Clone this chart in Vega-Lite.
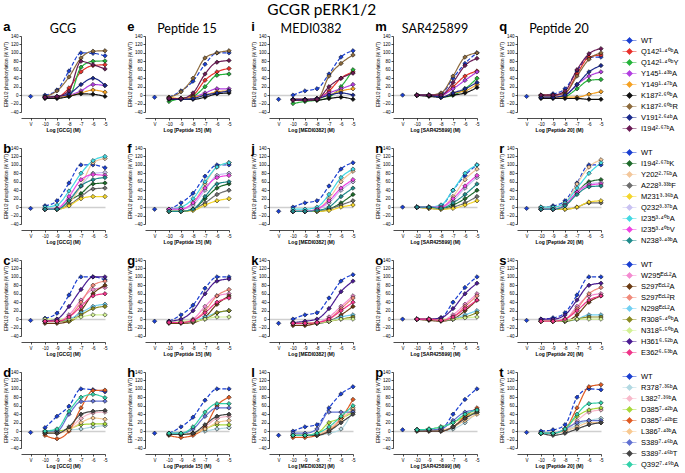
{
"$schema":"https://vega.github.io/schema/vega-lite/v6.json",
"padding":{"left":3,"top":3,"right":0,"bottom":0},
"title":{"text":"GCGR pERK1/2","fontSize":15.5,"font":"Lato","fontWeight":"normal","anchor":"start","frame":"bounds","dx":264,"offset":2},
"datasets":{
"conc":[{"k":"v","x":-11.2},{"k":"n10","x":-10},{"k":"n9","x":-9},{"k":"n8","x":-8},{"k":"n7","x":-7},{"k":"n6","x":-6},{"k":"n5","x":-5}],
"d":[
{"p":"a","s":"WT","v":-3,"n10":0,"n9":12,"n8":57,"n7":100,"n6":99,"n5":93},
{"p":"a","s":"Q142¹·⁴⁰ᵇA","n10":-5,"n9":-5,"n8":17,"n7":55,"n6":70,"n5":72},
{"p":"a","s":"Q142¹·⁴⁰ᵇY","n10":-5,"n9":-5,"n8":-3,"n7":66,"n6":80,"n5":81},
{"p":"a","s":"Y145¹·⁴³ᵇA","n10":-5,"n9":-5,"n8":0,"n7":10,"n6":25,"n5":23},
{"p":"a","s":"Y149¹·⁴⁷ᵇA","n10":-5,"n9":-5,"n8":-2,"n7":5,"n6":12,"n5":7},
{"p":"a","s":"K187²·⁶⁰ᵇA","n10":-8,"n9":-8,"n8":-3,"n7":3,"n6":2,"n5":-3},
{"p":"a","s":"K187²·⁶⁰ᵇR","n10":-3,"n9":10,"n8":43,"n7":88,"n6":104,"n5":105},
{"p":"a","s":"V191²·⁶⁴ᵇA","n10":-5,"n9":-3,"n8":3,"n7":25,"n6":40,"n5":23},
{"p":"a","s":"I194²·⁶⁷ᵇA","n10":-5,"n9":-3,"n8":10,"n7":80,"n6":72,"n5":62},
{"p":"e","s":"WT","v":-5,"n10":-5,"n9":10,"n8":33,"n7":73,"n6":100,"n5":100},
{"p":"e","s":"Q142¹·⁴⁰ᵇA","n10":-8,"n9":-8,"n8":0,"n7":35,"n6":55,"n5":63},
{"p":"e","s":"Q142¹·⁴⁰ᵇY","n10":-15,"n9":-8,"n8":-3,"n7":20,"n6":47,"n5":50},
{"p":"e","s":"Y145¹·⁴³ᵇA","n10":-8,"n9":-8,"n8":-5,"n7":5,"n6":15,"n5":15},
{"p":"e","s":"Y149¹·⁴⁷ᵇA","n10":-5,"n9":-8,"n8":-5,"n7":0,"n6":8,"n5":10},
{"p":"e","s":"K187²·⁶⁰ᵇA","n10":-10,"n9":-10,"n8":-10,"n7":-5,"n6":3,"n5":5},
{"p":"e","s":"K187²·⁶⁰ᵇR","n10":-5,"n9":8,"n8":40,"n7":88,"n6":100,"n5":105},
{"p":"e","s":"V191²·⁶⁴ᵇA","n10":-8,"n9":-10,"n8":-8,"n7":0,"n6":5,"n5":10},
{"p":"e","s":"I194²·⁶⁷ᵇA","n10":-8,"n9":-8,"n8":5,"n7":50,"n6":78,"n5":82},
{"p":"i","s":"WT","v":-10,"n10":0,"n9":10,"n8":15,"n7":50,"n6":90,"n5":105},
{"p":"i","s":"Q142¹·⁴⁰ᵇA","n10":-10,"n9":-10,"n8":-8,"n7":10,"n6":40,"n5":55},
{"p":"i","s":"Q142¹·⁴⁰ᵇY","n10":-20,"n9":-15,"n8":-12,"n7":-5,"n6":20,"n5":60},
{"p":"i","s":"Y145¹·⁴³ᵇA","n10":-10,"n9":-10,"n8":-8,"n7":5,"n6":15,"n5":25},
{"p":"i","s":"Y149¹·⁴⁷ᵇA","n10":-10,"n9":-10,"n8":-8,"n7":0,"n6":10,"n5":15},
{"p":"i","s":"K187²·⁶⁰ᵇA","n10":-12,"n9":-12,"n8":-12,"n7":-8,"n6":-5,"n5":-10},
{"p":"i","s":"K187²·⁶⁰ᵇR","n10":-10,"n9":-10,"n8":-10,"n7":45,"n6":75,"n5":95},
{"p":"i","s":"V191²·⁶⁴ᵇA","n10":-10,"n9":-10,"n8":-8,"n7":0,"n6":5,"n5":0},
{"p":"i","s":"I194²·⁶⁷ᵇA","n10":-12,"n9":-12,"n8":-10,"n7":20,"n6":40,"n5":52},
{"p":"m","s":"WT","v":0,"n10":0,"n9":0,"n8":3,"n7":40,"n6":75,"n5":100},
{"p":"m","s":"Q142¹·⁴⁰ᵇA","n10":0,"n9":0,"n8":0,"n7":20,"n6":45,"n5":57},
{"p":"m","s":"Q142¹·⁴⁰ᵇY","n10":0,"n9":0,"n8":-5,"n7":0,"n6":15,"n5":40},
{"p":"m","s":"Y145¹·⁴³ᵇA","n10":0,"n9":0,"n8":0,"n7":15,"n6":35,"n5":55},
{"p":"m","s":"Y149¹·⁴⁷ᵇA","n10":0,"n9":0,"n8":-5,"n7":5,"n6":10,"n5":25},
{"p":"m","s":"K187²·⁶⁰ᵇA","n10":0,"n9":-3,"n8":-5,"n7":0,"n6":5,"n5":18},
{"p":"m","s":"K187²·⁶⁰ᵇR","n10":0,"n9":0,"n8":5,"n7":45,"n6":90,"n5":100},
{"p":"m","s":"V191²·⁶⁴ᵇA","n10":0,"n9":0,"n8":-5,"n7":5,"n6":15,"n5":30},
{"p":"m","s":"I194²·⁶⁷ᵇA","n10":0,"n9":0,"n8":0,"n7":30,"n6":70,"n5":87},
{"p":"q","s":"WT","v":-3,"n10":0,"n9":3,"n8":15,"n7":57,"n6":90,"n5":90},
{"p":"q","s":"Q142¹·⁴⁰ᵇA","n10":0,"n9":0,"n8":5,"n7":50,"n6":90,"n5":95},
{"p":"q","s":"Q142¹·⁴⁰ᵇY","n10":-5,"n9":-5,"n8":-3,"n7":15,"n6":35,"n5":37},
{"p":"q","s":"Y145¹·⁴³ᵇA","n10":-5,"n9":-5,"n8":0,"n7":25,"n6":45,"n5":55},
{"p":"q","s":"Y149¹·⁴⁷ᵇA","n10":-5,"n9":-5,"n8":-5,"n7":-5,"n6":2,"n5":8},
{"p":"q","s":"K187²·⁶⁰ᵇA","n10":-8,"n9":-8,"n8":-8,"n7":-8,"n6":-10,"n5":-10},
{"p":"q","s":"K187²·⁶⁰ᵇR","n10":0,"n9":0,"n8":5,"n7":45,"n6":85,"n5":100},
{"p":"q","s":"V191²·⁶⁴ᵇA","n10":-5,"n9":-5,"n8":0,"n7":25,"n6":55,"n5":70},
{"p":"q","s":"I194²·⁶⁷ᵇA","n10":0,"n9":0,"n8":10,"n7":60,"n6":98,"n5":110},

{"p":"b","s":"WT","v":-3,"n10":3,"n9":15,"n8":57,"n7":100,"n6":100,"n5":93},
{"p":"b","s":"I194²·⁶⁷ᵇK","n10":-5,"n9":-5,"n8":15,"n7":32,"n6":55,"n5":57},
{"p":"b","s":"Y202²·⁷⁵ᵇA","n10":-5,"n9":-5,"n8":10,"n7":50,"n6":105,"n5":115},
{"p":"b","s":"A228³·³³ᵇF","n10":-5,"n9":-5,"n8":5,"n7":25,"n6":43,"n5":45},
{"p":"b","s":"M231³·³⁶ᵇA","n10":-5,"n9":-5,"n8":3,"n7":20,"n6":25,"n5":25},
{"p":"b","s":"Q232³·³⁷ᵇA","n10":-5,"n9":-5,"n8":20,"n7":50,"n6":80,"n5":82},
{"p":"b","s":"I235³·⁴⁰ᵇA","n10":0,"n9":5,"n8":38,"n7":80,"n6":110,"n5":120},
{"p":"b","s":"I235³·⁴⁰ᵇV","n10":-5,"n9":-3,"n8":25,"n7":65,"n6":77,"n5":75},
{"p":"b","s":"N238³·⁴³ᵇA","n10":-5,"n9":-5,"n8":15,"n7":50,"n6":65,"n5":70},
{"p":"f","s":"WT","v":-5,"n10":-5,"n9":10,"n8":33,"n7":73,"n6":100,"n5":100},
{"p":"f","s":"I194²·⁶⁷ᵇK","n10":-10,"n9":-10,"n8":-5,"n7":20,"n6":45,"n5":55},
{"p":"f","s":"Y202²·⁷⁵ᵇA","n10":-5,"n9":-5,"n8":10,"n7":55,"n6":95,"n5":105},
{"p":"f","s":"A228³·³³ᵇF","n10":-10,"n9":-10,"n8":-5,"n7":10,"n6":30,"n5":40},
{"p":"f","s":"M231³·³⁶ᵇA","n10":-10,"n9":-10,"n8":-8,"n7":5,"n6":15,"n5":20},
{"p":"f","s":"Q232³·³⁷ᵇA","n10":-5,"n9":-5,"n8":5,"n7":40,"n6":75,"n5":80},
{"p":"f","s":"I235³·⁴⁰ᵇA","n10":-5,"n9":0,"n8":20,"n7":60,"n6":95,"n5":105},
{"p":"f","s":"I235³·⁴⁰ᵇV","n10":-5,"n9":-5,"n8":10,"n7":45,"n6":70,"n5":75},
{"p":"f","s":"N238³·⁴³ᵇA","n10":-10,"n9":-10,"n8":-5,"n7":25,"n6":55,"n5":60},
{"p":"j","s":"WT","v":-10,"n10":0,"n9":10,"n8":15,"n7":50,"n6":90,"n5":105},
{"p":"j","s":"I194²·⁶⁷ᵇK","n10":-10,"n9":-10,"n8":-10,"n7":-5,"n6":10,"n5":30},
{"p":"j","s":"Y202²·⁷⁵ᵇA","n10":-10,"n9":-10,"n8":-5,"n7":20,"n6":60,"n5":85},
{"p":"j","s":"A228³·³³ᵇF","n10":-10,"n9":-10,"n8":-10,"n7":-5,"n6":5,"n5":15},
{"p":"j","s":"M231³·³⁶ᵇA","n10":-10,"n9":-10,"n8":-10,"n7":-8,"n6":0,"n5":5},
{"p":"j","s":"Q232³·³⁷ᵇA","n10":-10,"n9":-10,"n8":-5,"n7":10,"n6":40,"n5":60},
{"p":"j","s":"I235³·⁴⁰ᵇA","n10":-5,"n9":-5,"n8":0,"n7":30,"n6":70,"n5":90},
{"p":"j","s":"I235³·⁴⁰ᵇV","n10":-10,"n9":-10,"n8":-5,"n7":15,"n6":45,"n5":65},
{"p":"j","s":"N238³·⁴³ᵇA","n10":-10,"n9":-10,"n8":-8,"n7":0,"n6":25,"n5":45},
{"p":"n","s":"WT","v":0,"n10":0,"n9":0,"n8":3,"n7":40,"n6":75,"n5":100},
{"p":"n","s":"I194²·⁶⁷ᵇK","n10":0,"n9":0,"n8":-3,"n7":5,"n6":20,"n5":40},
{"p":"n","s":"Y202²·⁷⁵ᵇA","n10":0,"n9":0,"n8":0,"n7":25,"n6":65,"n5":90},
{"p":"n","s":"A228³·³³ᵇF","n10":0,"n9":-3,"n8":-5,"n7":0,"n6":10,"n5":25},
{"p":"n","s":"M231³·³⁶ᵇA","n10":0,"n9":-3,"n8":-5,"n7":-3,"n6":5,"n5":15},
{"p":"n","s":"Q232³·³⁷ᵇA","n10":0,"n9":0,"n8":0,"n7":15,"n6":45,"n5":70},
{"p":"n","s":"I235³·⁴⁰ᵇA","n10":0,"n9":0,"n8":5,"n7":40,"n6":80,"n5":100},
{"p":"n","s":"I235³·⁴⁰ᵇV","n10":0,"n9":0,"n8":0,"n7":20,"n6":50,"n5":75},
{"p":"n","s":"N238³·⁴³ᵇA","n10":0,"n9":0,"n8":-3,"n7":10,"n6":30,"n5":55},
{"p":"r","s":"WT","v":-3,"n10":0,"n9":3,"n8":15,"n7":57,"n6":100,"n5":100},
{"p":"r","s":"I194²·⁶⁷ᵇK","n10":-5,"n9":-5,"n8":5,"n7":35,"n6":60,"n5":65},
{"p":"r","s":"Y202²·⁷⁵ᵇA","n10":0,"n9":0,"n8":10,"n7":55,"n6":95,"n5":112},
{"p":"r","s":"A228³·³³ᵇF","n10":-5,"n9":-5,"n8":-5,"n7":0,"n6":10,"n5":10},
{"p":"r","s":"M231³·³⁶ᵇA","n10":-5,"n9":-5,"n8":-5,"n7":0,"n6":12,"n5":15},
{"p":"r","s":"Q232³·³⁷ᵇA","n10":-5,"n9":-5,"n8":5,"n7":35,"n6":55,"n5":58},
{"p":"r","s":"I235³·⁴⁰ᵇA","n10":0,"n9":0,"n8":10,"n7":45,"n6":80,"n5":105},
{"p":"r","s":"I235³·⁴⁰ᵇV","n10":-5,"n9":-5,"n8":5,"n7":35,"n6":52,"n5":55},
{"p":"r","s":"N238³·⁴³ᵇA","n10":-5,"n9":-5,"n8":3,"n7":30,"n6":48,"n5":50},

{"p":"c","s":"WT","v":-3,"n10":2,"n9":14,"n8":57,"n7":100,"n6":100,"n5":93},
{"p":"c","s":"W295ᴱᶜᴸ²A","n10":-5,"n9":-5,"n8":10,"n7":45,"n6":70,"n5":75},
{"p":"c","s":"S297ᴱᶜᴸ²A","n10":-10,"n9":-10,"n8":-5,"n7":20,"n6":60,"n5":80},
{"p":"c","s":"S297ᴱᶜᴸ²R","n10":-5,"n9":-5,"n8":5,"n7":40,"n6":80,"n5":90},
{"p":"c","s":"N298ᴱᶜᴸ²A","n10":-5,"n9":-5,"n8":0,"n7":15,"n6":30,"n5":35},
{"p":"c","s":"R308⁵·⁴⁰ᵇA","n10":-5,"n9":-5,"n8":-5,"n7":10,"n6":25,"n5":30},
{"p":"c","s":"N318⁵·⁵⁰ᵇA","n10":0,"n9":0,"n8":0,"n7":5,"n6":10,"n5":10},
{"p":"c","s":"H361⁶·⁵²ᵇA","n10":-5,"n9":0,"n8":30,"n7":70,"n6":100,"n5":100},
{"p":"c","s":"E362⁶·⁵³ᵇA","n10":-5,"n9":-5,"n8":5,"n7":30,"n6":55,"n5":60},
{"p":"g","s":"WT","v":-5,"n10":-5,"n9":10,"n8":33,"n7":73,"n6":100,"n5":100},
{"p":"g","s":"W295ᴱᶜᴸ²A","n10":-8,"n9":-8,"n8":0,"n7":30,"n6":55,"n5":60},
{"p":"g","s":"S297ᴱᶜᴸ²A","n10":-10,"n9":-10,"n8":-8,"n7":5,"n6":35,"n5":55},
{"p":"g","s":"S297ᴱᶜᴸ²R","n10":-8,"n9":-8,"n8":-3,"n7":20,"n6":55,"n5":70},
{"p":"g","s":"N298ᴱᶜᴸ²A","n10":-8,"n9":-8,"n8":-5,"n7":5,"n6":15,"n5":20},
{"p":"g","s":"R308⁵·⁴⁰ᵇA","n10":-8,"n9":-8,"n8":-5,"n7":0,"n6":15,"n5":20},
{"p":"g","s":"N318⁵·⁵⁰ᵇA","n10":-5,"n9":-5,"n8":-5,"n7":0,"n6":5,"n5":5},
{"p":"g","s":"H361⁶·⁵²ᵇA","n10":-5,"n9":0,"n8":20,"n7":60,"n6":90,"n5":95},
{"p":"g","s":"E362⁶·⁵³ᵇA","n10":-8,"n9":-8,"n8":-3,"n7":15,"n6":40,"n5":50},
{"p":"k","s":"WT","v":-10,"n10":0,"n9":10,"n8":15,"n7":50,"n6":90,"n5":105},
{"p":"k","s":"W295ᴱᶜᴸ²A","n10":-10,"n9":-10,"n8":-8,"n7":5,"n6":30,"n5":55},
{"p":"k","s":"S297ᴱᶜᴸ²A","n10":-15,"n9":-15,"n8":-10,"n7":-5,"n6":10,"n5":30},
{"p":"k","s":"S297ᴱᶜᴸ²R","n10":-10,"n9":-10,"n8":-8,"n7":0,"n6":25,"n5":50},
{"p":"k","s":"N298ᴱᶜᴸ²A","n10":-10,"n9":-10,"n8":-10,"n7":-5,"n6":5,"n5":10},
{"p":"k","s":"R308⁵·⁴⁰ᵇA","n10":-10,"n9":-10,"n8":-10,"n7":-5,"n6":0,"n5":5},
{"p":"k","s":"N318⁵·⁵⁰ᵇA","n10":-8,"n9":-8,"n8":-8,"n7":-5,"n6":0,"n5":0},
{"p":"k","s":"H361⁶·⁵²ᵇA","n10":-8,"n9":-5,"n8":0,"n7":25,"n6":65,"n5":90},
{"p":"k","s":"E362⁶·⁵³ᵇA","n10":-10,"n9":-10,"n8":-8,"n7":0,"n6":20,"n5":40},
{"p":"o","s":"WT","v":0,"n10":0,"n9":0,"n8":3,"n7":40,"n6":75,"n5":100},
{"p":"o","s":"W295ᴱᶜᴸ²A","n10":0,"n9":0,"n8":-3,"n7":10,"n6":35,"n5":60},
{"p":"o","s":"S297ᴱᶜᴸ²A","n10":0,"n9":-3,"n8":-5,"n7":0,"n6":20,"n5":45},
{"p":"o","s":"S297ᴱᶜᴸ²R","n10":0,"n9":0,"n8":-3,"n7":5,"n6":30,"n5":55},
{"p":"o","s":"N298ᴱᶜᴸ²A","n10":0,"n9":0,"n8":-3,"n7":0,"n6":10,"n5":20},
{"p":"o","s":"R308⁵·⁴⁰ᵇA","n10":0,"n9":0,"n8":-3,"n7":0,"n6":5,"n5":15},
{"p":"o","s":"N318⁵·⁵⁰ᵇA","n10":0,"n9":0,"n8":0,"n7":0,"n6":3,"n5":5},
{"p":"o","s":"H361⁶·⁵²ᵇA","n10":0,"n9":0,"n8":3,"n7":25,"n6":60,"n5":85},
{"p":"o","s":"E362⁶·⁵³ᵇA","n10":0,"n9":0,"n8":-3,"n7":5,"n6":25,"n5":45},
{"p":"s","s":"WT","v":-3,"n10":0,"n9":3,"n8":15,"n7":57,"n6":100,"n5":100},
{"p":"s","s":"W295ᴱᶜᴸ²A","n10":-5,"n9":-5,"n8":0,"n7":30,"n6":55,"n5":60},
{"p":"s","s":"S297ᴱᶜᴸ²A","n10":-5,"n9":-5,"n8":-5,"n7":10,"n6":40,"n5":55},
{"p":"s","s":"S297ᴱᶜᴸ²R","n10":-5,"n9":-5,"n8":0,"n7":25,"n6":60,"n5":75},
{"p":"s","s":"N298ᴱᶜᴸ²A","n10":-5,"n9":-5,"n8":-5,"n7":0,"n6":10,"n5":10},
{"p":"s","s":"R308⁵·⁴⁰ᵇA","n10":-5,"n9":-5,"n8":-5,"n7":0,"n6":5,"n5":5},
{"p":"s","s":"N318⁵·⁵⁰ᵇA","n10":-5,"n9":-5,"n8":-3,"n7":0,"n6":0,"n5":0},
{"p":"s","s":"H361⁶·⁵²ᵇA","n10":0,"n9":0,"n8":10,"n7":45,"n6":80,"n5":85},
{"p":"s","s":"E362⁶·⁵³ᵇA","n10":-5,"n9":-5,"n8":0,"n7":20,"n6":45,"n5":55},

{"p":"d","s":"WT","v":-3,"n10":8,"n9":35,"n8":59,"n7":100,"n6":98,"n5":93},
{"p":"d","s":"R378⁷·³⁵ᵇA","n10":0,"n9":0,"n8":3,"n7":5,"n6":10,"n5":13},
{"p":"d","s":"L382⁷·³⁹ᵇA","n10":-5,"n9":-5,"n8":5,"n7":30,"n6":43,"n5":45},
{"p":"d","s":"D385⁷·⁴²ᵇA","n10":-3,"n9":0,"n8":5,"n7":15,"n6":17,"n5":17},
{"p":"d","s":"D385⁷·⁴²ᵇE","n10":-10,"n9":-18,"n8":0,"n7":55,"n6":96,"n5":97},
{"p":"d","s":"L386⁷·⁴³ᵇA","n10":-5,"n9":-5,"n8":3,"n7":20,"n6":31,"n5":28},
{"p":"d","s":"S389⁷·⁴⁶ᵇA","n10":0,"n9":0,"n8":40,"n7":70,"n6":71,"n5":71},
{"p":"d","s":"S389⁷·⁴⁶ᵇT","n10":-5,"n9":-5,"n8":10,"n7":40,"n6":47,"n5":49},
{"p":"d","s":"Q392⁷·⁴⁹ᵇA","n10":0,"n9":5,"n8":47,"n7":80,"n6":87,"n5":79},
{"p":"h","s":"WT","v":-5,"n10":-5,"n9":10,"n8":33,"n7":73,"n6":100,"n5":100},
{"p":"h","s":"R378⁷·³⁵ᵇA","n10":-8,"n9":-8,"n8":-5,"n7":0,"n6":5,"n5":8},
{"p":"h","s":"L382⁷·³⁹ᵇA","n10":-8,"n9":-8,"n8":-5,"n7":10,"n6":30,"n5":35},
{"p":"h","s":"D385⁷·⁴²ᵇA","n10":-8,"n9":-8,"n8":-5,"n7":5,"n6":15,"n5":15},
{"p":"h","s":"D385⁷·⁴²ᵇE","n10":-10,"n9":-15,"n8":-10,"n7":10,"n6":60,"n5":80},
{"p":"h","s":"L386⁷·⁴³ᵇA","n10":-8,"n9":-8,"n8":-5,"n7":5,"n6":20,"n5":25},
{"p":"h","s":"S389⁷·⁴⁶ᵇA","n10":-5,"n9":-5,"n8":5,"n7":35,"n6":55,"n5":55},
{"p":"h","s":"S389⁷·⁴⁶ᵇT","n10":-8,"n9":-8,"n8":-5,"n7":15,"n6":35,"n5":40},
{"p":"h","s":"Q392⁷·⁴⁹ᵇA","n10":-5,"n9":-5,"n8":10,"n7":45,"n6":65,"n5":65},
{"p":"l","s":"WT","v":-10,"n10":0,"n9":10,"n8":15,"n7":55,"n6":88,"n5":105},
{"p":"l","s":"R378⁷·³⁵ᵇA","n10":-10,"n9":-10,"n8":-10,"n7":-5,"n6":5,"n5":50},
{"p":"l","s":"L382⁷·³⁹ᵇA","n10":-10,"n9":-10,"n8":-8,"n7":5,"n6":30,"n5":50},
{"p":"l","s":"D385⁷·⁴²ᵇA","n10":-10,"n9":-10,"n8":-5,"n7":20,"n6":30,"n5":45},
{"p":"l","s":"D385⁷·⁴²ᵇE","n10":-15,"n9":-15,"n8":-10,"n7":0,"n6":30,"n5":75},
{"p":"l","s":"L386⁷·⁴³ᵇA","n10":-10,"n9":-10,"n8":-8,"n7":5,"n6":25,"n5":55},
{"p":"l","s":"S389⁷·⁴⁶ᵇA","n10":-5,"n9":-5,"n8":5,"n7":45,"n6":45,"n5":45},
{"p":"l","s":"S389⁷·⁴⁶ᵇT","n10":-10,"n9":-10,"n8":-10,"n7":0,"n6":20,"n5":40},
{"p":"l","s":"Q392⁷·⁴⁹ᵇA","n10":-10,"n9":-10,"n8":-5,"n7":10,"n6":35,"n5":60},
{"p":"p","s":"WT","v":3,"n10":3,"n9":3,"n8":5,"n7":40,"n6":75,"n5":100},
{"p":"p","s":"R378⁷·³⁵ᵇA","n10":3,"n9":3,"n8":0,"n7":5,"n6":20,"n5":45},
{"p":"p","s":"L382⁷·³⁹ᵇA","n10":3,"n9":3,"n8":3,"n7":10,"n6":30,"n5":50},
{"p":"p","s":"D385⁷·⁴²ᵇA","n10":3,"n9":5,"n8":10,"n7":20,"n6":35,"n5":45},
{"p":"p","s":"D385⁷·⁴²ᵇE","n10":0,"n9":0,"n8":0,"n7":10,"n6":35,"n5":55},
{"p":"p","s":"L386⁷·⁴³ᵇA","n10":3,"n9":3,"n8":3,"n7":10,"n6":25,"n5":40},
{"p":"p","s":"S389⁷·⁴⁶ᵇA","n10":3,"n9":3,"n8":5,"n7":25,"n6":45,"n5":50},
{"p":"p","s":"S389⁷·⁴⁶ᵇT","n10":0,"n9":0,"n8":0,"n7":10,"n6":30,"n5":45},
{"p":"p","s":"Q392⁷·⁴⁹ᵇA","n10":3,"n9":5,"n8":10,"n7":20,"n6":40,"n5":50},
{"p":"t","s":"WT","v":-3,"n10":0,"n9":3,"n8":15,"n7":80,"n6":100,"n5":98},
{"p":"t","s":"R378⁷·³⁵ᵇA","n10":-5,"n9":-5,"n8":0,"n7":15,"n6":25,"n5":30},
{"p":"t","s":"L382⁷·³⁹ᵇA","n10":-5,"n9":-5,"n8":0,"n7":25,"n6":45,"n5":50},
{"p":"t","s":"D385⁷·⁴²ᵇA","n10":-5,"n9":-5,"n8":5,"n7":35,"n6":50,"n5":55},
{"p":"t","s":"D385⁷·⁴²ᵇE","n10":-5,"n9":-5,"n8":5,"n7":55,"n6":105,"n5":110},
{"p":"t","s":"L386⁷·⁴³ᵇA","n10":-5,"n9":-5,"n8":0,"n7":10,"n6":20,"n5":20},
{"p":"t","s":"S389⁷·⁴⁶ᵇA","n10":-5,"n9":-5,"n8":5,"n7":20,"n6":25,"n5":25},
{"p":"t","s":"S389⁷·⁴⁶ᵇT","n10":-5,"n9":-10,"n8":-5,"n7":5,"n6":15,"n5":20},
{"p":"t","s":"Q392⁷·⁴⁹ᵇA","n10":-5,"n9":-5,"n8":5,"n7":40,"n6":65,"n5":67}
]},
"data":{"name":"d"},
"transform":[
{"fold":["v","n10","n9","n8","n7","n6","n5"],"as":["k","y"]},
{"lookup":"k","from":{"data":{"name":"conc"},"key":"k","fields":["x"]}}
],
"spacing":10,
"resolve":{"scale":{"color":"independent"}},
"vconcat":[
{"spacing":18,"hconcat":[
{"title":"a","encoding":{"x":{"field":"x","type":"quantitative","scale":{"domain":[-12,-5]},"axis":{"title":"Log [GCG] (M)","values":[-11.2,-10,-9,-8,-7,-6,-5],"labelExpr":"datum.value < -10.5 ? 'V' : datum.value"}},"y":{"field":"y","type":"quantitative","scale":{"domain":[-40,140]},"axis":{"title":"ERK1/2 phosphorylation (% WT)"}},"color":{"field":"s","type":"nominal","scale":{"domain":["WT","Q142¹·⁴⁰ᵇA","Q142¹·⁴⁰ᵇY","Y145¹·⁴³ᵇA","Y149¹·⁴⁷ᵇA","K187²·⁶⁰ᵇA","K187²·⁶⁰ᵇR","V191²·⁶⁴ᵇA","I194²·⁶⁷ᵇA"],"range":["#1a3fd1","#e8302b","#25b33a","#b23ee0","#f5a122","#111111","#8c6a3c","#1b2a8c","#6b1a55"]},"legend":{"symbolType":"M-1,0H1M0,-0.45L0.45,0L0,0.45L-0.45,0Z"}}},
 "layer":[{"transform":[{"filter":{"field":"p","equal":"a"}},{"filter":"datum.x > -10.5"}],"mark":{"type":"line","interpolate":"monotone","strokeWidth":1.2},"encoding":{"strokeDash":{"condition":{"test":"datum.s === 'WT'","value":[4,2]},"value":[1,0]}}},{"transform":[{"filter":{"field":"p","equal":"a"}}],"mark":{"type":"point"}},
 {"transform":[{"filter":{"field":"p","equal":"a"}},{"filter":{"field":"s","equal":"WT"}},{"filter":{"field":"k","equal":"n5"}}],"mark":{"type":"text","font":"Lato","fontSize":12.5,"baseline":"middle"},"encoding":{"x":{"datum":-8.5},"y":{"datum":157},"text":{"value":"GCG"},"color":{"value":"black"}}}]},
{"title":"e","encoding":{"x":{"field":"x","type":"quantitative","scale":{"domain":[-12,-5]},"axis":{"title":"Log [Peptide 15] (M)","values":[-11.2,-10,-9,-8,-7,-6,-5],"labelExpr":"datum.value < -10.5 ? 'V' : datum.value"}},"y":{"field":"y","type":"quantitative","scale":{"domain":[-40,140]},"axis":{"title":"ERK1/2 phosphorylation (% WT)"}},"color":{"field":"s","type":"nominal","scale":{"domain":["WT","Q142¹·⁴⁰ᵇA","Q142¹·⁴⁰ᵇY","Y145¹·⁴³ᵇA","Y149¹·⁴⁷ᵇA","K187²·⁶⁰ᵇA","K187²·⁶⁰ᵇR","V191²·⁶⁴ᵇA","I194²·⁶⁷ᵇA"],"range":["#1a3fd1","#e8302b","#25b33a","#b23ee0","#f5a122","#111111","#8c6a3c","#1b2a8c","#6b1a55"]},"legend":{"symbolType":"M-1,0H1M0,-0.45L0.45,0L0,0.45L-0.45,0Z"}}},
 "layer":[{"transform":[{"filter":{"field":"p","equal":"e"}},{"filter":"datum.x > -10.5"}],"mark":{"type":"line","interpolate":"monotone","strokeWidth":1.2},"encoding":{"strokeDash":{"condition":{"test":"datum.s === 'WT'","value":[4,2]},"value":[1,0]}}},{"transform":[{"filter":{"field":"p","equal":"e"}}],"mark":{"type":"point"}},
 {"transform":[{"filter":{"field":"p","equal":"e"}},{"filter":{"field":"s","equal":"WT"}},{"filter":{"field":"k","equal":"n5"}}],"mark":{"type":"text","font":"Lato","fontSize":12.5,"baseline":"middle"},"encoding":{"x":{"datum":-8.5},"y":{"datum":157},"text":{"value":"Peptide 15"},"color":{"value":"black"}}}]},
{"title":"i","encoding":{"x":{"field":"x","type":"quantitative","scale":{"domain":[-12,-5]},"axis":{"title":"Log [MEDI0382] (M)","values":[-11.2,-10,-9,-8,-7,-6,-5],"labelExpr":"datum.value < -10.5 ? 'V' : datum.value"}},"y":{"field":"y","type":"quantitative","scale":{"domain":[-40,140]},"axis":{"title":"ERK1/2 phosphorylation (% WT)"}},"color":{"field":"s","type":"nominal","scale":{"domain":["WT","Q142¹·⁴⁰ᵇA","Q142¹·⁴⁰ᵇY","Y145¹·⁴³ᵇA","Y149¹·⁴⁷ᵇA","K187²·⁶⁰ᵇA","K187²·⁶⁰ᵇR","V191²·⁶⁴ᵇA","I194²·⁶⁷ᵇA"],"range":["#1a3fd1","#e8302b","#25b33a","#b23ee0","#f5a122","#111111","#8c6a3c","#1b2a8c","#6b1a55"]},"legend":{"symbolType":"M-1,0H1M0,-0.45L0.45,0L0,0.45L-0.45,0Z"}}},
 "layer":[{"transform":[{"filter":{"field":"p","equal":"i"}},{"filter":"datum.x > -10.5"}],"mark":{"type":"line","interpolate":"monotone","strokeWidth":1.2},"encoding":{"strokeDash":{"condition":{"test":"datum.s === 'WT'","value":[4,2]},"value":[1,0]}}},{"transform":[{"filter":{"field":"p","equal":"i"}}],"mark":{"type":"point"}},
 {"transform":[{"filter":{"field":"p","equal":"i"}},{"filter":{"field":"s","equal":"WT"}},{"filter":{"field":"k","equal":"n5"}}],"mark":{"type":"text","font":"Lato","fontSize":12.5,"baseline":"middle"},"encoding":{"x":{"datum":-8.5},"y":{"datum":157},"text":{"value":"MEDI0382"},"color":{"value":"black"}}}]},
{"title":"m","encoding":{"x":{"field":"x","type":"quantitative","scale":{"domain":[-12,-5]},"axis":{"title":"Log [SAR425899] (M)","values":[-11.2,-10,-9,-8,-7,-6,-5],"labelExpr":"datum.value < -10.5 ? 'V' : datum.value"}},"y":{"field":"y","type":"quantitative","scale":{"domain":[-40,140]},"axis":{"title":"ERK1/2 phosphorylation (% WT)"}},"color":{"field":"s","type":"nominal","scale":{"domain":["WT","Q142¹·⁴⁰ᵇA","Q142¹·⁴⁰ᵇY","Y145¹·⁴³ᵇA","Y149¹·⁴⁷ᵇA","K187²·⁶⁰ᵇA","K187²·⁶⁰ᵇR","V191²·⁶⁴ᵇA","I194²·⁶⁷ᵇA"],"range":["#1a3fd1","#e8302b","#25b33a","#b23ee0","#f5a122","#111111","#8c6a3c","#1b2a8c","#6b1a55"]},"legend":{"symbolType":"M-1,0H1M0,-0.45L0.45,0L0,0.45L-0.45,0Z"}}},
 "layer":[{"transform":[{"filter":{"field":"p","equal":"m"}},{"filter":"datum.x > -10.5"}],"mark":{"type":"line","interpolate":"monotone","strokeWidth":1.2},"encoding":{"strokeDash":{"condition":{"test":"datum.s === 'WT'","value":[4,2]},"value":[1,0]}}},{"transform":[{"filter":{"field":"p","equal":"m"}}],"mark":{"type":"point"}},
 {"transform":[{"filter":{"field":"p","equal":"m"}},{"filter":{"field":"s","equal":"WT"}},{"filter":{"field":"k","equal":"n5"}}],"mark":{"type":"text","font":"Lato","fontSize":12.5,"baseline":"middle"},"encoding":{"x":{"datum":-8.5},"y":{"datum":157},"text":{"value":"SAR425899"},"color":{"value":"black"}}}]},
{"title":"q","encoding":{"x":{"field":"x","type":"quantitative","scale":{"domain":[-12,-5]},"axis":{"title":"Log [Peptide 20] (M)","values":[-11.2,-10,-9,-8,-7,-6,-5],"labelExpr":"datum.value < -10.5 ? 'V' : datum.value"}},"y":{"field":"y","type":"quantitative","scale":{"domain":[-40,140]},"axis":{"title":"ERK1/2 phosphorylation (% WT)"}},"color":{"field":"s","type":"nominal","scale":{"domain":["WT","Q142¹·⁴⁰ᵇA","Q142¹·⁴⁰ᵇY","Y145¹·⁴³ᵇA","Y149¹·⁴⁷ᵇA","K187²·⁶⁰ᵇA","K187²·⁶⁰ᵇR","V191²·⁶⁴ᵇA","I194²·⁶⁷ᵇA"],"range":["#1a3fd1","#e8302b","#25b33a","#b23ee0","#f5a122","#111111","#8c6a3c","#1b2a8c","#6b1a55"]},"legend":{"symbolType":"M-1,0H1M0,-0.45L0.45,0L0,0.45L-0.45,0Z"}}},
 "layer":[{"transform":[{"filter":{"field":"p","equal":"q"}},{"filter":"datum.x > -10.5"}],"mark":{"type":"line","interpolate":"monotone","strokeWidth":1.2},"encoding":{"strokeDash":{"condition":{"test":"datum.s === 'WT'","value":[4,2]},"value":[1,0]}}},{"transform":[{"filter":{"field":"p","equal":"q"}}],"mark":{"type":"point"}},
 {"transform":[{"filter":{"field":"p","equal":"q"}},{"filter":{"field":"s","equal":"WT"}},{"filter":{"field":"k","equal":"n5"}}],"mark":{"type":"text","font":"Lato","fontSize":12.5,"baseline":"middle"},"encoding":{"x":{"datum":-8.5},"y":{"datum":157},"text":{"value":"Peptide 20"},"color":{"value":"black"}}}]}
]},
{"spacing":18,"hconcat":[
{"title":"b","encoding":{"x":{"field":"x","type":"quantitative","scale":{"domain":[-12,-5]},"axis":{"title":"Log [GCG] (M)","values":[-11.2,-10,-9,-8,-7,-6,-5],"labelExpr":"datum.value < -10.5 ? 'V' : datum.value"}},"y":{"field":"y","type":"quantitative","scale":{"domain":[-40,140]},"axis":{"title":"ERK1/2 phosphorylation (% WT)"}},"color":{"field":"s","type":"nominal","scale":{"domain":["WT","I194²·⁶⁷ᵇK","Y202²·⁷⁵ᵇA","A228³·³³ᵇF","M231³·³⁶ᵇA","Q232³·³⁷ᵇA","I235³·⁴⁰ᵇA","I235³·⁴⁰ᵇV","N238³·⁴³ᵇA"],"range":["#1a3fd1","#1e6b2b","#f3c79b","#6e6e6e","#f4d62c","#c9c2f2","#43d9e3","#ef45e3","#1f8b8b"]},"legend":{"symbolType":"M-1,0H1M0,-0.45L0.45,0L0,0.45L-0.45,0Z"}}},
 "layer":[{"transform":[{"filter":{"field":"p","equal":"b"}},{"filter":"datum.x > -10.5"}],"mark":{"type":"line","interpolate":"monotone","strokeWidth":1.2},"encoding":{"strokeDash":{"condition":{"test":"datum.s === 'WT'","value":[4,2]},"value":[1,0]}}},{"transform":[{"filter":{"field":"p","equal":"b"}}],"mark":{"type":"point"}}]},
{"title":"f","encoding":{"x":{"field":"x","type":"quantitative","scale":{"domain":[-12,-5]},"axis":{"title":"Log [Peptide 15] (M)","values":[-11.2,-10,-9,-8,-7,-6,-5],"labelExpr":"datum.value < -10.5 ? 'V' : datum.value"}},"y":{"field":"y","type":"quantitative","scale":{"domain":[-40,140]},"axis":{"title":"ERK1/2 phosphorylation (% WT)"}},"color":{"field":"s","type":"nominal","scale":{"domain":["WT","I194²·⁶⁷ᵇK","Y202²·⁷⁵ᵇA","A228³·³³ᵇF","M231³·³⁶ᵇA","Q232³·³⁷ᵇA","I235³·⁴⁰ᵇA","I235³·⁴⁰ᵇV","N238³·⁴³ᵇA"],"range":["#1a3fd1","#1e6b2b","#f3c79b","#6e6e6e","#f4d62c","#c9c2f2","#43d9e3","#ef45e3","#1f8b8b"]},"legend":{"symbolType":"M-1,0H1M0,-0.45L0.45,0L0,0.45L-0.45,0Z"}}},
 "layer":[{"transform":[{"filter":{"field":"p","equal":"f"}},{"filter":"datum.x > -10.5"}],"mark":{"type":"line","interpolate":"monotone","strokeWidth":1.2},"encoding":{"strokeDash":{"condition":{"test":"datum.s === 'WT'","value":[4,2]},"value":[1,0]}}},{"transform":[{"filter":{"field":"p","equal":"f"}}],"mark":{"type":"point"}}]},
{"title":"j","encoding":{"x":{"field":"x","type":"quantitative","scale":{"domain":[-12,-5]},"axis":{"title":"Log [MEDI0382] (M)","values":[-11.2,-10,-9,-8,-7,-6,-5],"labelExpr":"datum.value < -10.5 ? 'V' : datum.value"}},"y":{"field":"y","type":"quantitative","scale":{"domain":[-40,140]},"axis":{"title":"ERK1/2 phosphorylation (% WT)"}},"color":{"field":"s","type":"nominal","scale":{"domain":["WT","I194²·⁶⁷ᵇK","Y202²·⁷⁵ᵇA","A228³·³³ᵇF","M231³·³⁶ᵇA","Q232³·³⁷ᵇA","I235³·⁴⁰ᵇA","I235³·⁴⁰ᵇV","N238³·⁴³ᵇA"],"range":["#1a3fd1","#1e6b2b","#f3c79b","#6e6e6e","#f4d62c","#c9c2f2","#43d9e3","#ef45e3","#1f8b8b"]},"legend":{"symbolType":"M-1,0H1M0,-0.45L0.45,0L0,0.45L-0.45,0Z"}}},
 "layer":[{"transform":[{"filter":{"field":"p","equal":"j"}},{"filter":"datum.x > -10.5"}],"mark":{"type":"line","interpolate":"monotone","strokeWidth":1.2},"encoding":{"strokeDash":{"condition":{"test":"datum.s === 'WT'","value":[4,2]},"value":[1,0]}}},{"transform":[{"filter":{"field":"p","equal":"j"}}],"mark":{"type":"point"}}]},
{"title":"n","encoding":{"x":{"field":"x","type":"quantitative","scale":{"domain":[-12,-5]},"axis":{"title":"Log [SAR425899] (M)","values":[-11.2,-10,-9,-8,-7,-6,-5],"labelExpr":"datum.value < -10.5 ? 'V' : datum.value"}},"y":{"field":"y","type":"quantitative","scale":{"domain":[-40,140]},"axis":{"title":"ERK1/2 phosphorylation (% WT)"}},"color":{"field":"s","type":"nominal","scale":{"domain":["WT","I194²·⁶⁷ᵇK","Y202²·⁷⁵ᵇA","A228³·³³ᵇF","M231³·³⁶ᵇA","Q232³·³⁷ᵇA","I235³·⁴⁰ᵇA","I235³·⁴⁰ᵇV","N238³·⁴³ᵇA"],"range":["#1a3fd1","#1e6b2b","#f3c79b","#6e6e6e","#f4d62c","#c9c2f2","#43d9e3","#ef45e3","#1f8b8b"]},"legend":{"symbolType":"M-1,0H1M0,-0.45L0.45,0L0,0.45L-0.45,0Z"}}},
 "layer":[{"transform":[{"filter":{"field":"p","equal":"n"}},{"filter":"datum.x > -10.5"}],"mark":{"type":"line","interpolate":"monotone","strokeWidth":1.2},"encoding":{"strokeDash":{"condition":{"test":"datum.s === 'WT'","value":[4,2]},"value":[1,0]}}},{"transform":[{"filter":{"field":"p","equal":"n"}}],"mark":{"type":"point"}}]},
{"title":"r","encoding":{"x":{"field":"x","type":"quantitative","scale":{"domain":[-12,-5]},"axis":{"title":"Log [Peptide 20] (M)","values":[-11.2,-10,-9,-8,-7,-6,-5],"labelExpr":"datum.value < -10.5 ? 'V' : datum.value"}},"y":{"field":"y","type":"quantitative","scale":{"domain":[-40,140]},"axis":{"title":"ERK1/2 phosphorylation (% WT)"}},"color":{"field":"s","type":"nominal","scale":{"domain":["WT","I194²·⁶⁷ᵇK","Y202²·⁷⁵ᵇA","A228³·³³ᵇF","M231³·³⁶ᵇA","Q232³·³⁷ᵇA","I235³·⁴⁰ᵇA","I235³·⁴⁰ᵇV","N238³·⁴³ᵇA"],"range":["#1a3fd1","#1e6b2b","#f3c79b","#6e6e6e","#f4d62c","#c9c2f2","#43d9e3","#ef45e3","#1f8b8b"]},"legend":{"symbolType":"M-1,0H1M0,-0.45L0.45,0L0,0.45L-0.45,0Z"}}},
 "layer":[{"transform":[{"filter":{"field":"p","equal":"r"}},{"filter":"datum.x > -10.5"}],"mark":{"type":"line","interpolate":"monotone","strokeWidth":1.2},"encoding":{"strokeDash":{"condition":{"test":"datum.s === 'WT'","value":[4,2]},"value":[1,0]}}},{"transform":[{"filter":{"field":"p","equal":"r"}}],"mark":{"type":"point"}}]}
]},
{"spacing":18,"hconcat":[
{"title":"c","encoding":{"x":{"field":"x","type":"quantitative","scale":{"domain":[-12,-5]},"axis":{"title":"Log [GCG] (M)","values":[-11.2,-10,-9,-8,-7,-6,-5],"labelExpr":"datum.value < -10.5 ? 'V' : datum.value"}},"y":{"field":"y","type":"quantitative","scale":{"domain":[-40,140]},"axis":{"title":"ERK1/2 phosphorylation (% WT)"}},"color":{"field":"s","type":"nominal","scale":{"domain":["WT","W295ᴱᶜᴸ²A","S297ᴱᶜᴸ²A","S297ᴱᶜᴸ²R","N298ᴱᶜᴸ²A","R308⁵·⁴⁰ᵇA","N318⁵·⁵⁰ᵇA","H361⁶·⁵²ᵇA","E362⁶·⁵³ᵇA"],"range":["#1a3fd1","#f48bd0","#6b3b12","#f08a7b","#72d0f2","#8b8b22","#d2f094","#4a1b92","#ef3589"]},"legend":{"symbolType":"M-1,0H1M0,-0.45L0.45,0L0,0.45L-0.45,0Z"}}},
 "layer":[{"transform":[{"filter":{"field":"p","equal":"c"}},{"filter":"datum.x > -10.5"}],"mark":{"type":"line","interpolate":"monotone","strokeWidth":1.2},"encoding":{"strokeDash":{"condition":{"test":"datum.s === 'WT'","value":[4,2]},"value":[1,0]}}},{"transform":[{"filter":{"field":"p","equal":"c"}}],"mark":{"type":"point"}}]},
{"title":"g","encoding":{"x":{"field":"x","type":"quantitative","scale":{"domain":[-12,-5]},"axis":{"title":"Log [Peptide 15] (M)","values":[-11.2,-10,-9,-8,-7,-6,-5],"labelExpr":"datum.value < -10.5 ? 'V' : datum.value"}},"y":{"field":"y","type":"quantitative","scale":{"domain":[-40,140]},"axis":{"title":"ERK1/2 phosphorylation (% WT)"}},"color":{"field":"s","type":"nominal","scale":{"domain":["WT","W295ᴱᶜᴸ²A","S297ᴱᶜᴸ²A","S297ᴱᶜᴸ²R","N298ᴱᶜᴸ²A","R308⁵·⁴⁰ᵇA","N318⁵·⁵⁰ᵇA","H361⁶·⁵²ᵇA","E362⁶·⁵³ᵇA"],"range":["#1a3fd1","#f48bd0","#6b3b12","#f08a7b","#72d0f2","#8b8b22","#d2f094","#4a1b92","#ef3589"]},"legend":{"symbolType":"M-1,0H1M0,-0.45L0.45,0L0,0.45L-0.45,0Z"}}},
 "layer":[{"transform":[{"filter":{"field":"p","equal":"g"}},{"filter":"datum.x > -10.5"}],"mark":{"type":"line","interpolate":"monotone","strokeWidth":1.2},"encoding":{"strokeDash":{"condition":{"test":"datum.s === 'WT'","value":[4,2]},"value":[1,0]}}},{"transform":[{"filter":{"field":"p","equal":"g"}}],"mark":{"type":"point"}}]},
{"title":"k","encoding":{"x":{"field":"x","type":"quantitative","scale":{"domain":[-12,-5]},"axis":{"title":"Log [MEDI0382] (M)","values":[-11.2,-10,-9,-8,-7,-6,-5],"labelExpr":"datum.value < -10.5 ? 'V' : datum.value"}},"y":{"field":"y","type":"quantitative","scale":{"domain":[-40,140]},"axis":{"title":"ERK1/2 phosphorylation (% WT)"}},"color":{"field":"s","type":"nominal","scale":{"domain":["WT","W295ᴱᶜᴸ²A","S297ᴱᶜᴸ²A","S297ᴱᶜᴸ²R","N298ᴱᶜᴸ²A","R308⁵·⁴⁰ᵇA","N318⁵·⁵⁰ᵇA","H361⁶·⁵²ᵇA","E362⁶·⁵³ᵇA"],"range":["#1a3fd1","#f48bd0","#6b3b12","#f08a7b","#72d0f2","#8b8b22","#d2f094","#4a1b92","#ef3589"]},"legend":{"symbolType":"M-1,0H1M0,-0.45L0.45,0L0,0.45L-0.45,0Z"}}},
 "layer":[{"transform":[{"filter":{"field":"p","equal":"k"}},{"filter":"datum.x > -10.5"}],"mark":{"type":"line","interpolate":"monotone","strokeWidth":1.2},"encoding":{"strokeDash":{"condition":{"test":"datum.s === 'WT'","value":[4,2]},"value":[1,0]}}},{"transform":[{"filter":{"field":"p","equal":"k"}}],"mark":{"type":"point"}}]},
{"title":"o","encoding":{"x":{"field":"x","type":"quantitative","scale":{"domain":[-12,-5]},"axis":{"title":"Log [SAR425899] (M)","values":[-11.2,-10,-9,-8,-7,-6,-5],"labelExpr":"datum.value < -10.5 ? 'V' : datum.value"}},"y":{"field":"y","type":"quantitative","scale":{"domain":[-40,140]},"axis":{"title":"ERK1/2 phosphorylation (% WT)"}},"color":{"field":"s","type":"nominal","scale":{"domain":["WT","W295ᴱᶜᴸ²A","S297ᴱᶜᴸ²A","S297ᴱᶜᴸ²R","N298ᴱᶜᴸ²A","R308⁵·⁴⁰ᵇA","N318⁵·⁵⁰ᵇA","H361⁶·⁵²ᵇA","E362⁶·⁵³ᵇA"],"range":["#1a3fd1","#f48bd0","#6b3b12","#f08a7b","#72d0f2","#8b8b22","#d2f094","#4a1b92","#ef3589"]},"legend":{"symbolType":"M-1,0H1M0,-0.45L0.45,0L0,0.45L-0.45,0Z"}}},
 "layer":[{"transform":[{"filter":{"field":"p","equal":"o"}},{"filter":"datum.x > -10.5"}],"mark":{"type":"line","interpolate":"monotone","strokeWidth":1.2},"encoding":{"strokeDash":{"condition":{"test":"datum.s === 'WT'","value":[4,2]},"value":[1,0]}}},{"transform":[{"filter":{"field":"p","equal":"o"}}],"mark":{"type":"point"}}]},
{"title":"s","encoding":{"x":{"field":"x","type":"quantitative","scale":{"domain":[-12,-5]},"axis":{"title":"Log [Peptide 20] (M)","values":[-11.2,-10,-9,-8,-7,-6,-5],"labelExpr":"datum.value < -10.5 ? 'V' : datum.value"}},"y":{"field":"y","type":"quantitative","scale":{"domain":[-40,140]},"axis":{"title":"ERK1/2 phosphorylation (% WT)"}},"color":{"field":"s","type":"nominal","scale":{"domain":["WT","W295ᴱᶜᴸ²A","S297ᴱᶜᴸ²A","S297ᴱᶜᴸ²R","N298ᴱᶜᴸ²A","R308⁵·⁴⁰ᵇA","N318⁵·⁵⁰ᵇA","H361⁶·⁵²ᵇA","E362⁶·⁵³ᵇA"],"range":["#1a3fd1","#f48bd0","#6b3b12","#f08a7b","#72d0f2","#8b8b22","#d2f094","#4a1b92","#ef3589"]},"legend":{"symbolType":"M-1,0H1M0,-0.45L0.45,0L0,0.45L-0.45,0Z"}}},
 "layer":[{"transform":[{"filter":{"field":"p","equal":"s"}},{"filter":"datum.x > -10.5"}],"mark":{"type":"line","interpolate":"monotone","strokeWidth":1.2},"encoding":{"strokeDash":{"condition":{"test":"datum.s === 'WT'","value":[4,2]},"value":[1,0]}}},{"transform":[{"filter":{"field":"p","equal":"s"}}],"mark":{"type":"point"}}]}
]},
{"spacing":18,"hconcat":[
{"title":"d","encoding":{"x":{"field":"x","type":"quantitative","scale":{"domain":[-12,-5]},"axis":{"title":"Log [GCG] (M)","values":[-11.2,-10,-9,-8,-7,-6,-5],"labelExpr":"datum.value < -10.5 ? 'V' : datum.value"}},"y":{"field":"y","type":"quantitative","scale":{"domain":[-40,140]},"axis":{"title":"ERK1/2 phosphorylation (% WT)"}},"color":{"field":"s","type":"nominal","scale":{"domain":["WT","R378⁷·³⁵ᵇA","L382⁷·³⁹ᵇA","D385⁷·⁴²ᵇA","D385⁷·⁴²ᵇE","L386⁷·⁴³ᵇA","S389⁷·⁴⁶ᵇA","S389⁷·⁴⁶ᵇT","Q392⁷·⁴⁹ᵇA"],"range":["#1a3fd1","#b2d9e2","#f8b9ca","#a9d93a","#e05b22","#f8c991","#6171d2","#454545","#33d1a9"]},"legend":{"symbolType":"M-1,0H1M0,-0.45L0.45,0L0,0.45L-0.45,0Z"}}},
 "layer":[{"transform":[{"filter":{"field":"p","equal":"d"}},{"filter":"datum.x > -10.5"}],"mark":{"type":"line","interpolate":"monotone","strokeWidth":1.2},"encoding":{"strokeDash":{"condition":{"test":"datum.s === 'WT'","value":[4,2]},"value":[1,0]}}},{"transform":[{"filter":{"field":"p","equal":"d"}}],"mark":{"type":"point"}}]},
{"title":"h","encoding":{"x":{"field":"x","type":"quantitative","scale":{"domain":[-12,-5]},"axis":{"title":"Log [Peptide 15] (M)","values":[-11.2,-10,-9,-8,-7,-6,-5],"labelExpr":"datum.value < -10.5 ? 'V' : datum.value"}},"y":{"field":"y","type":"quantitative","scale":{"domain":[-40,140]},"axis":{"title":"ERK1/2 phosphorylation (% WT)"}},"color":{"field":"s","type":"nominal","scale":{"domain":["WT","R378⁷·³⁵ᵇA","L382⁷·³⁹ᵇA","D385⁷·⁴²ᵇA","D385⁷·⁴²ᵇE","L386⁷·⁴³ᵇA","S389⁷·⁴⁶ᵇA","S389⁷·⁴⁶ᵇT","Q392⁷·⁴⁹ᵇA"],"range":["#1a3fd1","#b2d9e2","#f8b9ca","#a9d93a","#e05b22","#f8c991","#6171d2","#454545","#33d1a9"]},"legend":{"symbolType":"M-1,0H1M0,-0.45L0.45,0L0,0.45L-0.45,0Z"}}},
 "layer":[{"transform":[{"filter":{"field":"p","equal":"h"}},{"filter":"datum.x > -10.5"}],"mark":{"type":"line","interpolate":"monotone","strokeWidth":1.2},"encoding":{"strokeDash":{"condition":{"test":"datum.s === 'WT'","value":[4,2]},"value":[1,0]}}},{"transform":[{"filter":{"field":"p","equal":"h"}}],"mark":{"type":"point"}}]},
{"title":"l","encoding":{"x":{"field":"x","type":"quantitative","scale":{"domain":[-12,-5]},"axis":{"title":"Log [MEDI0382] (M)","values":[-11.2,-10,-9,-8,-7,-6,-5],"labelExpr":"datum.value < -10.5 ? 'V' : datum.value"}},"y":{"field":"y","type":"quantitative","scale":{"domain":[-40,140]},"axis":{"title":"ERK1/2 phosphorylation (% WT)"}},"color":{"field":"s","type":"nominal","scale":{"domain":["WT","R378⁷·³⁵ᵇA","L382⁷·³⁹ᵇA","D385⁷·⁴²ᵇA","D385⁷·⁴²ᵇE","L386⁷·⁴³ᵇA","S389⁷·⁴⁶ᵇA","S389⁷·⁴⁶ᵇT","Q392⁷·⁴⁹ᵇA"],"range":["#1a3fd1","#b2d9e2","#f8b9ca","#a9d93a","#e05b22","#f8c991","#6171d2","#454545","#33d1a9"]},"legend":{"symbolType":"M-1,0H1M0,-0.45L0.45,0L0,0.45L-0.45,0Z"}}},
 "layer":[{"transform":[{"filter":{"field":"p","equal":"l"}},{"filter":"datum.x > -10.5"}],"mark":{"type":"line","interpolate":"monotone","strokeWidth":1.2},"encoding":{"strokeDash":{"condition":{"test":"datum.s === 'WT'","value":[4,2]},"value":[1,0]}}},{"transform":[{"filter":{"field":"p","equal":"l"}}],"mark":{"type":"point"}}]},
{"title":"p","encoding":{"x":{"field":"x","type":"quantitative","scale":{"domain":[-12,-5]},"axis":{"title":"Log [SAR425899] (M)","values":[-11.2,-10,-9,-8,-7,-6,-5],"labelExpr":"datum.value < -10.5 ? 'V' : datum.value"}},"y":{"field":"y","type":"quantitative","scale":{"domain":[-40,140]},"axis":{"title":"ERK1/2 phosphorylation (% WT)"}},"color":{"field":"s","type":"nominal","scale":{"domain":["WT","R378⁷·³⁵ᵇA","L382⁷·³⁹ᵇA","D385⁷·⁴²ᵇA","D385⁷·⁴²ᵇE","L386⁷·⁴³ᵇA","S389⁷·⁴⁶ᵇA","S389⁷·⁴⁶ᵇT","Q392⁷·⁴⁹ᵇA"],"range":["#1a3fd1","#b2d9e2","#f8b9ca","#a9d93a","#e05b22","#f8c991","#6171d2","#454545","#33d1a9"]},"legend":{"symbolType":"M-1,0H1M0,-0.45L0.45,0L0,0.45L-0.45,0Z"}}},
 "layer":[{"transform":[{"filter":{"field":"p","equal":"p"}},{"filter":"datum.x > -10.5"}],"mark":{"type":"line","interpolate":"monotone","strokeWidth":1.2},"encoding":{"strokeDash":{"condition":{"test":"datum.s === 'WT'","value":[4,2]},"value":[1,0]}}},{"transform":[{"filter":{"field":"p","equal":"p"}}],"mark":{"type":"point"}}]},
{"title":"t","encoding":{"x":{"field":"x","type":"quantitative","scale":{"domain":[-12,-5]},"axis":{"title":"Log [Peptide 20] (M)","values":[-11.2,-10,-9,-8,-7,-6,-5],"labelExpr":"datum.value < -10.5 ? 'V' : datum.value"}},"y":{"field":"y","type":"quantitative","scale":{"domain":[-40,140]},"axis":{"title":"ERK1/2 phosphorylation (% WT)"}},"color":{"field":"s","type":"nominal","scale":{"domain":["WT","R378⁷·³⁵ᵇA","L382⁷·³⁹ᵇA","D385⁷·⁴²ᵇA","D385⁷·⁴²ᵇE","L386⁷·⁴³ᵇA","S389⁷·⁴⁶ᵇA","S389⁷·⁴⁶ᵇT","Q392⁷·⁴⁹ᵇA"],"range":["#1a3fd1","#b2d9e2","#f8b9ca","#a9d93a","#e05b22","#f8c991","#6171d2","#454545","#33d1a9"]},"legend":{"symbolType":"M-1,0H1M0,-0.45L0.45,0L0,0.45L-0.45,0Z"}}},
 "layer":[{"transform":[{"filter":{"field":"p","equal":"t"}},{"filter":"datum.x > -10.5"}],"mark":{"type":"line","interpolate":"monotone","strokeWidth":1.2},"encoding":{"strokeDash":{"condition":{"test":"datum.s === 'WT'","value":[4,2]},"value":[1,0]}}},{"transform":[{"filter":{"field":"p","equal":"t"}}],"mark":{"type":"point"}}]}
]}
],
"config":{
"view":{"stroke":null,"continuousWidth":84,"continuousHeight":76},
"font":"Liberation Sans",
"title":{"anchor":"start","frame":"bounds","fontSize":13,"fontWeight":"bold","font":"Liberation Sans","offset":-11,"color":"#000"},
"axis":{"grid":false,"labelFontSize":4.5,"titleFontSize":4.5,"tickSize":2,"labelPadding":1,"titlePadding":2,"domainColor":"#000","tickColor":"#000","domainWidth":0.7,"tickWidth":0.7,"labelColor":"#000","titleColor":"#000","titleFontWeight":"normal"},
"axisX":{"offset":6,"titleFontWeight":"bold","titleFontSize":5,"labelFlush":false,"labelAngle":0},
"axisY":{"tickCount":10,"grid":true,"gridColor":{"condition":{"test":"datum.value === 0","value":"#cfcfcf"},"value":"transparent"},"gridWidth":1.5},
"point":{"shape":"diamond","filled":true,"stroke":"#000","strokeWidth":0.5,"size":20,"opacity":1},
"legend":{"title":null,"labelFontSize":7.5,"labelFont":"Liberation Sans","labelColor":"#000","symbolSize":196,"symbolStrokeWidth":1.3,"clipHeight":9,"rowPadding":2,"labelOffset":4,"offset":17,"padding":0}
}
}
